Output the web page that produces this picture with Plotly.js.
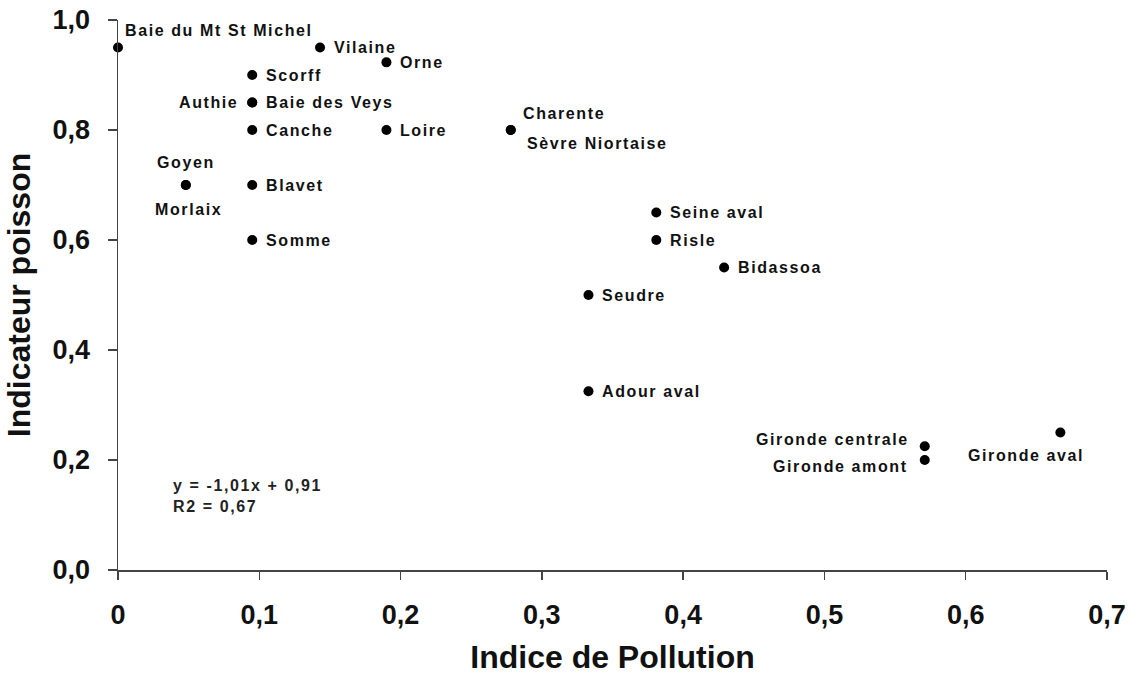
<!DOCTYPE html>
<html>
<head>
<meta charset="utf-8">
<script src="https://cdn.plot.ly/plotly-3.0.1.min.js"></script>
<style>
  html, body { margin: 0; padding: 0; background: #fff; }
  #chart { width: 1133px; height: 675px; }
  /* wide-set lettering for the site names and the regression note */
  .annotation-text { letter-spacing: 1.6px; }
</style>
</head>
<body>
<div id="chart"></div>
<script>
// Estuary sites: pollution index vs. fish indicator
const sites = [
  'Baie du Mt St Michel', 'Vilaine', 'Orne', 'Scorff', 'Authie', 'Baie des Veys',
  'Canche', 'Loire', 'Charente', 'Sèvre Niortaise', 'Goyen', 'Morlaix',
  'Blavet', 'Somme', 'Seine aval', 'Risle', 'Bidassoa', 'Seudre',
  'Adour aval', 'Gironde centrale', 'Gironde amont', 'Gironde aval'
];
const pollutionIndex = [
  0.0, 0.143, 0.190, 0.095, 0.095, 0.095,
  0.095, 0.190, 0.278, 0.278, 0.048, 0.048,
  0.095, 0.095, 0.381, 0.381, 0.429, 0.333,
  0.333, 0.571, 0.571, 0.667
];
const fishIndicator = [
  0.95, 0.95, 0.923, 0.90, 0.85, 0.85,
  0.80, 0.80, 0.80, 0.80, 0.70, 0.70,
  0.70, 0.60, 0.65, 0.60, 0.55, 0.50,
  0.325, 0.225, 0.20, 0.25
];
const xTicks = [0, 0.1, 0.2, 0.3, 0.4, 0.5, 0.6, 0.7];
const xTickText = ['0', '0,1', '0,2', '0,3', '0,4', '0,5', '0,6', '0,7'];
const yTicks = [0, 0.2, 0.4, 0.6, 0.8, 1.0];
const yTickText = ['0,0', '0,2', '0,4', '0,6', '0,8', '1,0'];
const fitText = 'y = -1,01x + 0,91<br>R2 = 0,67';

// Label placement around each dot: [side, dx, dy] in screen pixels (dy down)
const place = {
  'Baie du Mt St Michel': ['left', 6, -17],
  'Authie': ['right', -13, 0],
  'Charente': ['left', 11, -17],
  'Sèvre Niortaise': ['left', 15, 13],
  'Goyen': ['center', 0, -23],
  'Morlaix': ['center', 3, 24],
  'Gironde centrale': ['right', -15, -7],
  'Gironde amont': ['right', -16, 6],
  'Gironde aval': ['center', -34, 23]
};

const labelFont = { family: 'Liberation Sans, Arial, sans-serif', size: 16, color: '#111' };

const annotations = sites.map((name, i) => {
  const p = place[name] || ['left', 13, 0];
  return {
    x: pollutionIndex[i], y: fishIndicator[i], xref: 'x', yref: 'y',
    text: '<b>' + name + '</b>', showarrow: false,
    xanchor: p[0], yanchor: 'middle', align: p[0] === 'center' ? 'center' : p[0] === 'left' ? 'left' : 'right',
    xshift: p[1], yshift: -p[2], borderpad: 0,
    font: labelFont
  };
});

annotations.push({
  x: 0.038, y: 0.135, xref: 'x', yref: 'y',
  text: '<b>' + fitText.replace('<br>', '</b><br><b>') + '</b>',
  showarrow: false, xanchor: 'left', yanchor: 'middle', align: 'left', borderpad: 0,
  font: { family: 'Liberation Sans, Arial, sans-serif', size: 16, color: '#222' }
});

const trace = {
  type: 'scatter', mode: 'markers',
  x: pollutionIndex, y: fishIndicator, text: sites,
  marker: { color: '#000', size: 10 },
  hoverinfo: 'text+x+y', cliponaxis: false
};

const axisFont = { family: 'Liberation Sans, Arial, sans-serif', size: 27, color: '#111', weight: 'bold' };
const titleFont = { family: 'Liberation Sans, Arial, sans-serif', size: 32, color: '#111' };

const layout = {
  width: 1133, height: 675,
  margin: { l: 118, r: 26, t: 20, b: 105 },
  paper_bgcolor: '#fff', plot_bgcolor: '#fff',
  showlegend: false,
  separators: ', ',
  xaxis: {
    range: [0, 0.7], tickvals: xTicks, ticktext: xTickText,
    showgrid: false, zeroline: false,
    showline: true, linecolor: '#444', linewidth: 1.5,
    ticks: 'outside', ticklen: 8, tickwidth: 1.5, tickcolor: '#444',
    tickfont: axisFont, ticklabelstandoff: 12,
    title: { text: '<b>Indice de Pollution</b>', standoff: 18, font: titleFont }
  },
  yaxis: {
    range: [0, 1.0], tickvals: yTicks, ticktext: yTickText,
    showgrid: false, zeroline: false,
    showline: true, linecolor: '#444', linewidth: 1.5,
    ticks: 'outside', ticklen: 9, tickwidth: 1.5, tickcolor: '#444',
    tickfont: axisFont, ticklabelstandoff: 12,
    title: { text: '<b>Indicateur poisson</b>', standoff: 12, font: titleFont }
  },
  annotations: annotations
};

Plotly.newPlot('chart', [trace], layout, { displayModeBar: false, staticPlot: true });
</script>
</body>
</html>
